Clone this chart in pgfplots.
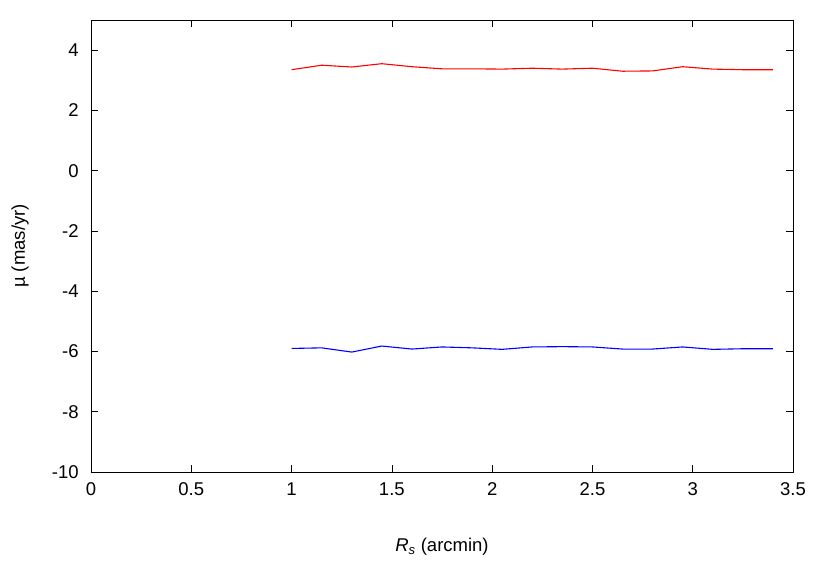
\documentclass[border=0pt]{standalone}
\usepackage{fontspec}
\setmainfont{Liberation Sans}
\usepackage{pgfplots}
\pgfplotsset{compat=1.18}
\usetikzlibrary{calc}

\begin{document}
\fontsize{18.5bp}{22bp}\selectfont
\begin{tikzpicture}
\begin{axis}[
    name=ax,
    scale only axis,
    width=702bp,
    height=452bp,
    xmin=0, xmax=3.5,
    ymin=-10, ymax=5,
    xtick={0,0.5,...,3.5},
    ytick={-10,-8,...,4},
    tick align=inside,
    major tick length=7bp,
    axis line style={line width=0.9bp},
    every tick/.style={black, line width=0.6bp},
    /pgf/number format/assume math mode=true,
    xticklabel style={yshift=-4bp},
    yticklabel style={xshift=-6bp},
    ticklabel style={font=\fontsize{18.5bp}{22bp}\selectfont},
    xlabel={\textit{R}\textsubscript{\textit{s}} (arcmin)},
    ylabel={µ (mas/yr)},
    xlabel style={at={(axis description cs:0.5,-0.166)}, anchor=center},
    ylabel style={at={(axis description cs:-0.101,0.5)}, anchor=center},
    label style={font=\fontsize{18.5bp}{22bp}\selectfont},
    clip=false,
]
\addplot[red, line width=1.1bp] coordinates {
    (1.00, 3.35) (1.15, 3.50) (1.30, 3.44) (1.45, 3.55) (1.60, 3.45)
    (1.75, 3.38) (1.90, 3.38) (2.05, 3.37) (2.20, 3.40) (2.35, 3.37)
    (2.50, 3.40) (2.65, 3.30) (2.80, 3.31) (2.95, 3.45) (3.10, 3.37)
    (3.25, 3.35) (3.40, 3.35)
};
\addplot[blue, line width=1.1bp] coordinates {
    (1.00, -5.90) (1.15, -5.88) (1.30, -6.02) (1.45, -5.82) (1.60, -5.92)
    (1.75, -5.85) (1.90, -5.88) (2.05, -5.93) (2.20, -5.85) (2.35, -5.84)
    (2.50, -5.85) (2.65, -5.92) (2.80, -5.92) (2.95, -5.85) (3.10, -5.93)
    (3.25, -5.91) (3.40, -5.91)
};
\end{axis}
\path[use as bounding box] ($(ax.south west)+(-91bp,-109bp)$) rectangle ($(ax.north east)+(37bp,20bp)$);
\end{tikzpicture}
\end{document}
